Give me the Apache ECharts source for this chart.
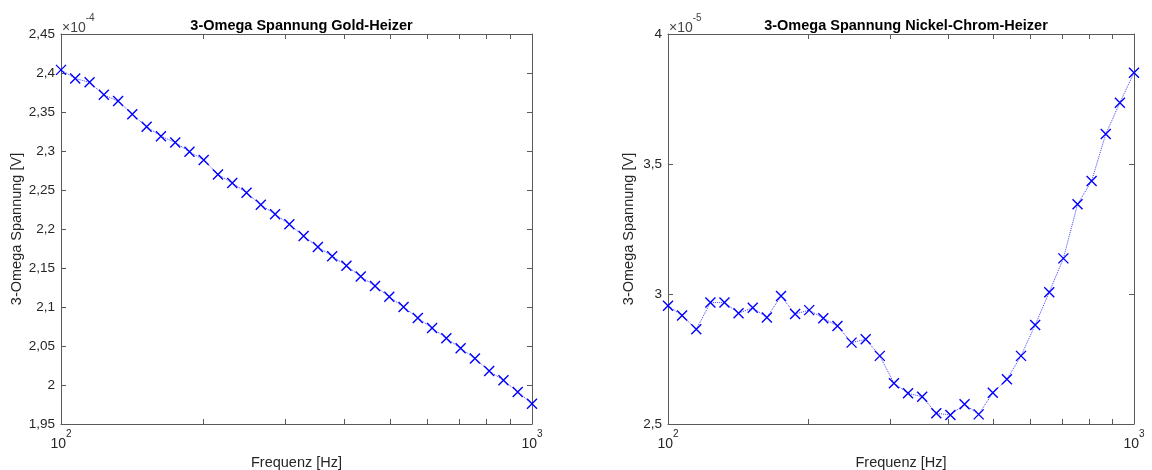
<!DOCTYPE html>
<html>
<head>
<meta charset="utf-8">
<script src="https://cdn.jsdelivr.net/npm/echarts@6/dist/echarts.min.js"></script>
<style>
html,body{margin:0;padding:0;background:#fff;}
#chart{width:1152px;height:470px;}
</style>
</head>
<body>
<div id="chart"></div>
<script>
// Frequencies [Hz] (same for both measurements)
const freqHz = [100, 107.2, 115.0, 123.3, 132.2, 141.7, 152.0, 163.0, 174.8, 187.4,
  200.9, 215.4, 231.0, 247.7, 265.6, 284.8, 305.4, 327.4, 351.1, 376.5,
  403.7, 432.9, 464.2, 497.7, 533.7, 572.2, 613.6, 657.9, 705.5, 756.5,
  811.1, 869.7, 932.6, 1000];
// Gold heater 3-omega voltage, in units of 1e-4 V
const goldV = [2.404, 2.393, 2.388, 2.372, 2.364, 2.347, 2.331, 2.319, 2.311, 2.299,
  2.2885, 2.270, 2.259, 2.2465, 2.231, 2.219, 2.206, 2.191, 2.177, 2.165,
  2.153, 2.139, 2.127, 2.113, 2.100, 2.086, 2.073, 2.060, 2.047, 2.034,
  2.018, 2.006, 1.991, 1.976];
// Nickel-chrome heater 3-omega voltage, in units of 1e-5 V
const nicrV = [2.955, 2.917, 2.864, 2.967, 2.967, 2.926, 2.947, 2.910, 2.992, 2.923,
  2.938, 2.907, 2.877, 2.813, 2.826, 2.762, 2.657, 2.618, 2.605, 2.541,
  2.535, 2.576, 2.537, 2.620, 2.672, 2.762, 2.881, 3.007, 3.137, 3.345,
  3.435, 3.615, 3.736, 3.851];
const titles = ['3-Omega Spannung Gold-Heizer', '3-Omega Spannung Nickel-Chrom-Heizer'];
const xName = 'Frequenz [Hz]';
const yName = '3-Omega Spannung [V]';
const xTickValues = [100, 200, 300, 400, 500, 600, 700, 800, 900, 1000];
const xLabelValues = [100, 1000];
const yGold = {min: 1.95, max: 2.45, interval: 0.05, exp: '-4'};
const yNicr = {min: 2.5, max: 4, interval: 0.5, exp: '-5'};

const FONT = 'Liberation Sans, Arial, Helvetica, sans-serif';
const AX = '#262626';
const LINE = '#5a5a5a';

function yLabel(v) {
  let s = (Math.round(v * 100) / 100).toString();
  return s.replace('.', ',');
}
function xLabel(v) {
  const e = Math.round(Math.log10(v));
  return '{b|10}{s|' + e + '}';
}
const richSup = {
  b: {fontSize: 14, fontFamily: FONT, color: AX, lineHeight: 22, verticalAlign: 'bottom'},
  s: {fontSize: 10, fontFamily: FONT, color: AX, lineHeight: 12, verticalAlign: 'top'}
};

function xAxes(grid) {
  const tick = {show: true, inside: true, length: 5, customValues: xTickValues, lineStyle: {color: LINE, width: 1}};
  const line = {show: true, onZero: false, lineStyle: {color: LINE, width: 1}};
  return [
    {gridIndex: grid, type: 'log', logBase: 10, min: 100, max: 1000, position: 'bottom',
      axisLine: line, axisTick: tick, splitLine: {show: false}, minorTick: {show: false},
      axisLabel: {show: true, customValues: xLabelValues, formatter: xLabel, rich: richSup, margin: 5},
      name: xName, nameLocation: 'middle', nameGap: 29,
      nameTextStyle: {fontSize: 14.5, fontFamily: FONT, color: AX}},
    {gridIndex: grid, type: 'log', logBase: 10, min: 100, max: 1000, position: 'top',
      axisLine: line, axisTick: tick, splitLine: {show: false}, axisLabel: {show: false}}
  ];
}
function yAxes(grid, cfg, gap) {
  const tick = {show: true, inside: true, length: 5, lineStyle: {color: LINE, width: 1}};
  const line = {show: true, onZero: false, lineStyle: {color: LINE, width: 1}};
  return [
    {gridIndex: grid, type: 'value', min: cfg.min, max: cfg.max, interval: cfg.interval, position: 'left',
      axisLine: line, axisTick: tick, splitLine: {show: false},
      axisLabel: {formatter: yLabel, fontSize: 13.5, fontFamily: FONT, color: AX, margin: 6},
      name: yName, nameLocation: 'middle', nameGap: gap, nameRotate: 90,
      nameTextStyle: {fontSize: 14.5, fontFamily: FONT, color: AX}},
    {gridIndex: grid, type: 'value', min: cfg.min, max: cfg.max, interval: cfg.interval, position: 'right',
      axisLine: line, axisTick: tick, splitLine: {show: false}, axisLabel: {show: false}}
  ];
}
function mkSeries(xi, yi, vals) {
  return {
    type: 'line', xAxisIndex: xi, yAxisIndex: yi,
    data: freqHz.map((f, i) => [f, vals[i]]),
    symbol: 'path://M0,0L10,10M0,10L10,0', symbolSize: 10, showSymbol: true,
    itemStyle: {color: 'rgba(0,0,0,0)', borderColor: '#0000ff', borderWidth: 1.4},
    lineStyle: {color: '#4040ff', width: 1, type: 'dotted'},
    emphasis: {disabled: true}, silent: true
  };
}
function expLabel(x, exp) {
  return {type: 'text', left: x, top: 13, silent: true,
    style: {text: '{a|×10}{s|' + exp + '}', rich: {
      a: {fontSize: 14, fontFamily: FONT, fill: '#444', lineHeight: 22, verticalAlign: 'bottom'},
      s: {fontSize: 10, fontFamily: FONT, fill: '#444', lineHeight: 12, verticalAlign: 'top'}}}};
}

const chart = echarts.init(document.getElementById('chart'), null, {renderer: 'canvas'});
chart.setOption({
  animation: false,
  backgroundColor: '#fff',
  title: [
    {text: titles[0], left: 296.5, textAlign: 'center', top: 13,
      textStyle: {fontSize: 14.5, fontWeight: 'bold', fontFamily: FONT, color: '#000'}},
    {text: titles[1], left: 901, textAlign: 'center', top: 13,
      textStyle: {fontSize: 14.5, fontWeight: 'bold', fontFamily: FONT, color: '#000'}}
  ],
  grid: [
    {left: 61, top: 34, width: 471, height: 390, containLabel: false, outerBoundsMode: 'none'},
    {left: 668, top: 34, width: 466, height: 390, containLabel: false, outerBoundsMode: 'none'}
  ],
  xAxis: [...xAxes(0), ...xAxes(1)],
  yAxis: [...yAxes(0, yGold, 34), ...yAxes(1, yNicr, 32)],
  series: [mkSeries(0, 0, goldV), mkSeries(2, 2, nicrV)],
  graphic: [expLabel(62, yGold.exp), expLabel(669, yNicr.exp)]
});
</script>
</body>
</html>
